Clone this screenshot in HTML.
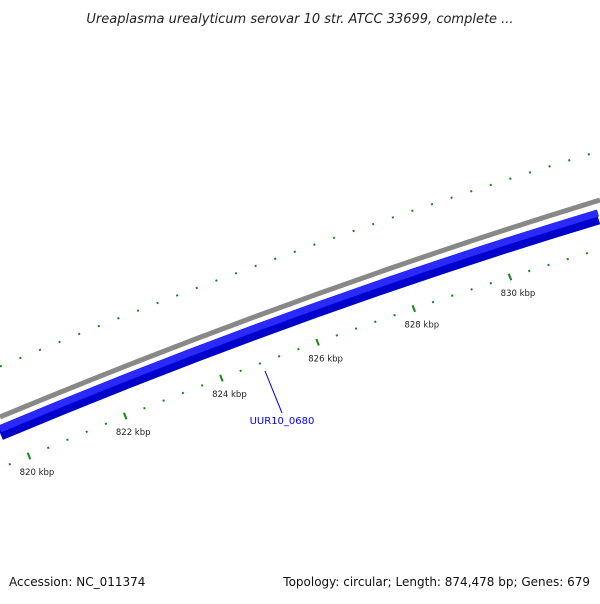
<!DOCTYPE html>
<html><head><meta charset="utf-8"><style>
body{margin:0;background:#fff;width:600px;height:600px;overflow:hidden;font-family:"DejaVu Sans","Liberation Sans",sans-serif}
</style></head><body>
<svg id="c" width="600" height="600" viewBox="0 0 600 600">
<text x="300" y="23" text-anchor="middle" font-size="13" font-style="italic" fill="#222">Ureaplasma urealyticum serovar 10 str. ATCC 33699, complete ...</text>
<path d="M0,417 Q300,292 600,200" stroke="#888" stroke-width="5" fill="none"/>
<path d="M0,433 Q300,307 598,217" stroke="#0000cc" stroke-width="15" fill="none"/>
<path d="M0,429 Q300,303 598,213" stroke="#2a2aff" stroke-width="7" fill="none"/>
<g id="ticks"></g>
<line x1="265" y1="371" x2="282" y2="413" stroke="#0000ff" stroke-width="1"/>
<text x="282" y="424" text-anchor="middle" font-size="10" fill="#0000ff">UUR10_0680</text>
<text x="9" y="586" font-size="12" fill="#111">Accession: NC_011374</text>
<text x="590" y="586" text-anchor="end" font-size="12" fill="#111">Topology: circular; Length: 874,478 bp; Genes: 679</text>
</svg>
<script>
const innerMajors=[820,822,824,826,828,830];
const outerMajors=[819,821,823,825,827,829,831];
const minorStep=0.4;
function lag(p,x){let s=0;for(let i=0;i<3;i++){let t=p[i][1];for(let j=0;j<3;j++)if(j!==i)t*=(x-p[j][0])/(p[i][0]-p[j][0]);s+=t;}return s;}
const innerPts=[[29,456],[219,379],[510,277]];
const outerPts=[[89,330],[283,256],[580,157]];
function innerPos(k){const x=29+(k-820)*48.1;return [x,lag(innerPts,x)];}
function outerPos(k){const x=89+(k-821)*49.0;return [x,lag(outerPts,x)];}
const g=document.getElementById('ticks');
const NS='http://www.w3.org/2000/svg';
function tick(pos,major,name){
  const [x,y]=pos;const len=major?3.5:1;
  const l=document.createElementNS(NS,'line');
  l.setAttribute('x1',x-0.36*len);l.setAttribute('y1',y-0.93*len);
  l.setAttribute('x2',x+0.36*len);l.setAttribute('y2',y+0.93*len);
  l.setAttribute('stroke','#118811');l.setAttribute('stroke-width',major?2:2);
  
  
  g.appendChild(l);
}
for(let k=818.8;k<=832;k+=minorStep){
  const kk=Math.round(k*10)/10;
  const maj=innerMajors.some(m=>Math.abs(m-kk)<0.01);
  const p=innerPos(kk);
  if(p[0]>-5&&p[0]<605) tick(p,maj,maj?'inner-major-tick':'inner-minor-tick');
  const majO=outerMajors.some(m=>Math.abs(m-kk)<0.01);
  const q=outerPos(kk);
  if(q[0]>-5&&q[0]<605) tick(q,majO,majO?'outer-major-tick':'outer-minor-tick');
}
innerMajors.forEach(k=>{
  const [x,y]=innerPos(k);
  const t=document.createElementNS(NS,'text');
  t.setAttribute('x',x+8);t.setAttribute('y',y+19);
  t.setAttribute('text-anchor','middle');t.setAttribute('font-size','8.5');t.setAttribute('fill','#222');
  
  
  t.textContent=k+' kbp';g.appendChild(t);
});
</script>
</body></html>
